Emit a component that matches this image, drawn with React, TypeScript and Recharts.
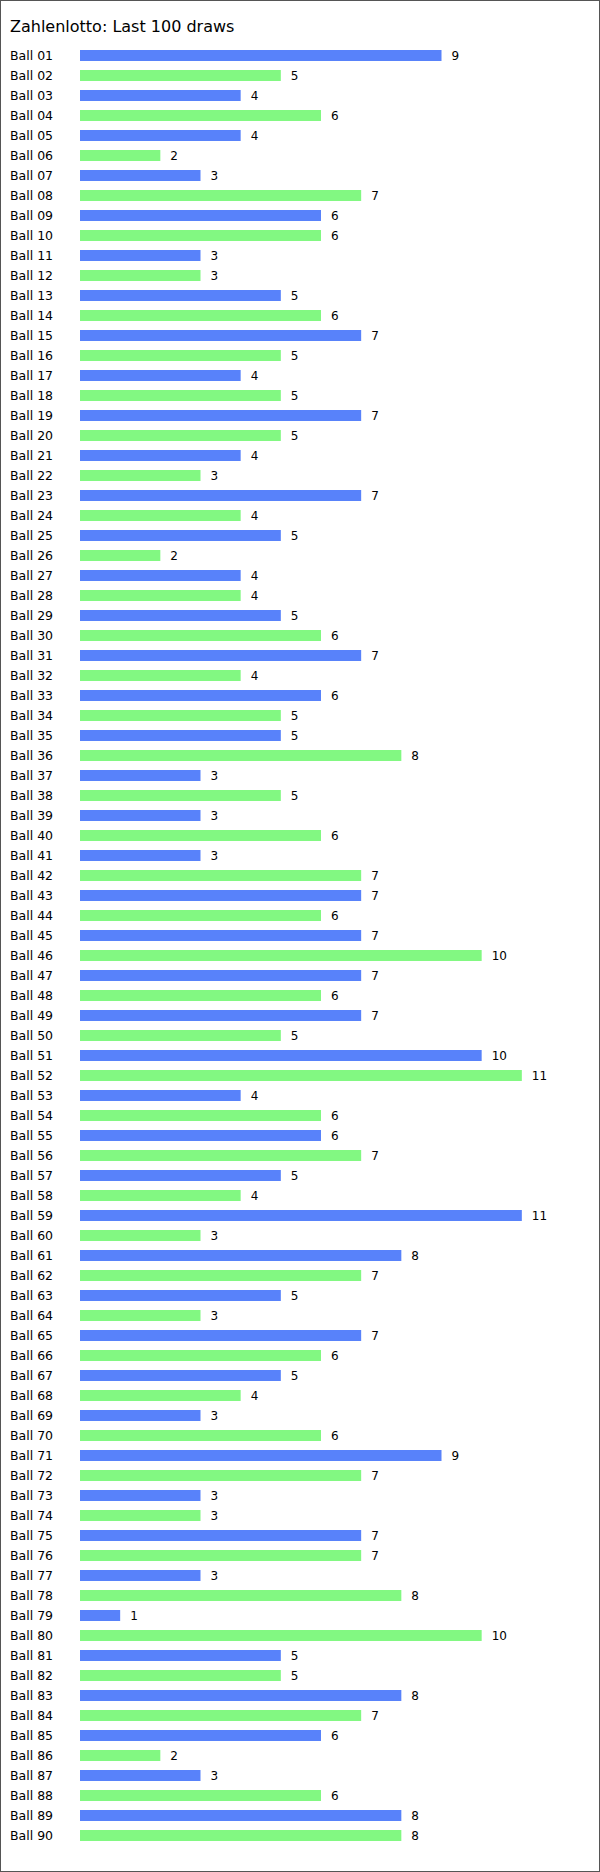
import React from "react";
import { BarChart, Bar, XAxis, YAxis, Cell, LabelList } from "recharts";

const title = "Zahlenlotto: Last 100 draws";
const balls = Array.from({ length: 90 }, (_, i) => `Ball ${String(i + 1).padStart(2, "0")}`);
const counts = [
  9, 5, 4, 6, 4, 2, 3, 7, 6, 6,
  3, 3, 5, 6, 7, 5, 4, 5, 7, 5,
  4, 3, 7, 4, 5, 2, 4, 4, 5, 6,
  7, 4, 6, 5, 5, 8, 3, 5, 3, 6,
  3, 7, 7, 6, 7, 10, 7, 6, 7, 5,
  10, 11, 4, 6, 6, 7, 5, 4, 11, 3,
  8, 7, 5, 3, 7, 6, 5, 4, 3, 6,
  9, 7, 3, 3, 7, 7, 3, 8, 1, 10,
  5, 5, 8, 7, 6, 2, 3, 6, 8, 8,
];
const colors = ["#5882FA", "#82F882"];

const data = balls.map((b, i) => ({ name: b, value: counts[i] }));

const FONT = "'DejaVu Sans', Verdana, sans-serif";

const LeftTick = (props: any) => {
  const { y, payload } = props;
  return (
    <text x={10} y={y} dy={5} textAnchor="start" fontSize={12.5} fontFamily={FONT} fill="#000">
      {payload.value}
    </text>
  );
};

export default function App() {
  return (
    <div
      style={{
        position: "absolute",
        top: 0,
        left: 0,
        width: 600,
        height: 1872,
        boxSizing: "border-box",
        border: "1px solid #555",
        background: "#fff",
        fontFamily: FONT,
      }}
    >
      <div
        style={{
          position: "absolute",
          left: 9,
          top: 16,
          fontSize: 16,
          color: "#000",
          lineHeight: "normal",
          whiteSpace: "nowrap",
        }}
      >
        {title}
      </div>
      <div style={{ position: "absolute", left: -1, top: -1 }}>
        <BarChart
          width={600}
          height={1872}
          data={data}
          layout="vertical"
          margin={{ top: 45, right: 38, bottom: 27, left: 0 }}
          barCategoryGap={0}
        >
          <XAxis type="number" domain={[0, 12]} hide />
          <YAxis
            type="category"
            dataKey="name"
            width={80}
            axisLine={false}
            tickLine={false}
            interval={0}
            tick={<LeftTick />}
          />
          <Bar dataKey="value" barSize={11} isAnimationActive={false}>
            {data.map((_, i) => (
              <Cell key={i} fill={colors[i % 2]} />
            ))}
            <LabelList
              dataKey="value"
              position="right"
              offset={10}
              fontSize={12}
              fontFamily={FONT}
              fill="#000"
            />
          </Bar>
        </BarChart>
      </div>
    </div>
  );
}
